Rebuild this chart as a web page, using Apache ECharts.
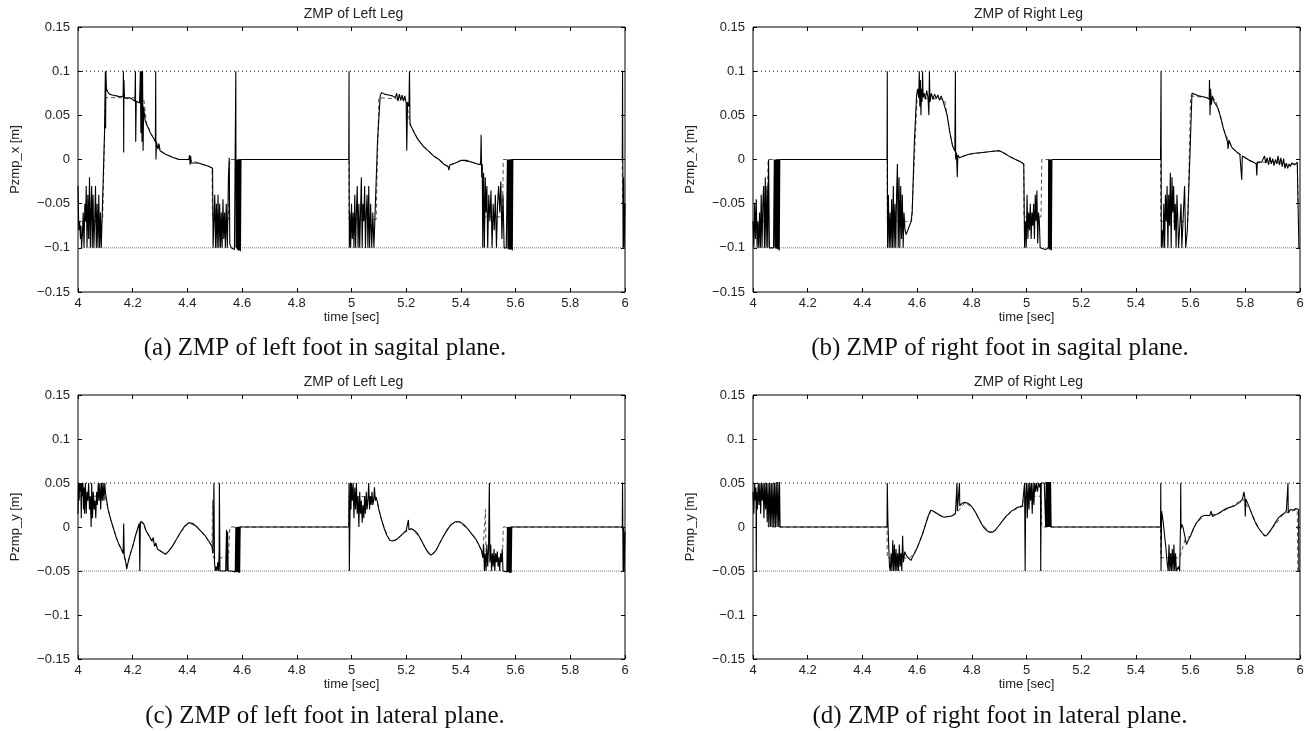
<!DOCTYPE html>
<html>
<head>
<meta charset="utf-8">
<title>ZMP of Left and Right Leg</title>
<script src="https://cdn.jsdelivr.net/npm/echarts@6/dist/echarts.min.js"></script>
<style>html,body{margin:0;background:#fff;}</style>
</head>
<body>
<div id="main" style="width:1316px;height:731px;"></div>
<script>
// time range and support-polygon limits
var timeRange = [4, 6];
var limitSagittal = [0.1, -0.1];
var limitLateral = [0.05, -0.05];

// (a) left leg, sagittal: measured [t, Pzmp_x]
var leftXMeas = [
  [4.000,-0.030],[4.003,-0.080],[4.006,-0.070],[4.009,-0.090],[4.011,-0.075],[4.013,-0.100],[4.016,-0.085],[4.019,-0.060],
  [4.022,-0.100],[4.025,-0.050],[4.028,-0.070],[4.030,-0.030],[4.033,-0.100],[4.036,-0.040],[4.039,-0.090],[4.042,-0.020],
  [4.045,-0.100],[4.048,-0.050],[4.050,-0.030],[4.052,-0.100],[4.055,-0.040],[4.058,-0.100],[4.061,-0.070],[4.064,-0.030],
  [4.067,-0.100],[4.070,-0.050],[4.073,-0.100],[4.076,-0.040],[4.079,-0.100],[4.082,-0.060],[4.085,-0.100],[4.092,-0.100],
  [4.097,0.030],[4.100,0.100],[4.101,0.035],[4.102,0.100],[4.104,0.080],[4.108,0.077],[4.115,0.074],[4.125,0.073],
  [4.140,0.072],[4.155,0.071],[4.165,0.072],[4.166,0.100],[4.167,0.008],[4.168,0.090],[4.170,0.070],[4.180,0.069],
  [4.190,0.070],[4.200,0.068],[4.208,0.066],[4.210,0.100],[4.211,0.020],[4.213,0.066],[4.220,0.065],[4.225,0.064],
  [4.228,0.100],[4.230,0.030],[4.232,0.100],[4.234,0.020],[4.236,0.100],[4.238,0.010],[4.240,0.060],[4.245,0.045],
  [4.250,0.040],[4.258,0.035],[4.265,0.030],[4.275,0.025],[4.283,0.020],[4.284,0.100],[4.285,0.000],[4.287,0.020],
  [4.292,0.012],[4.296,0.018],[4.300,0.010],[4.310,0.008],[4.320,0.006],[4.335,0.004],[4.350,0.002],[4.370,0.000],
  [4.390,0.000],[4.405,0.000],[4.408,0.005],[4.410,-0.006],[4.412,0.004],[4.414,-0.004],[4.420,-0.002],[4.440,-0.004],
  [4.460,-0.006],[4.480,-0.008],[4.492,-0.010],[4.494,-0.100],[4.498,-0.100],[4.500,-0.040],[4.503,-0.100],[4.506,-0.050],
  [4.509,-0.100],[4.512,-0.040],[4.515,-0.100],[4.518,-0.050],[4.521,-0.100],[4.524,-0.060],[4.527,-0.100],[4.530,-0.045],
  [4.533,-0.090],[4.536,-0.060],[4.539,-0.100],[4.542,-0.050],[4.546,-0.100],[4.550,-0.020],[4.553,0.002],[4.555,-0.095],
  [4.560,-0.100],[4.566,-0.100],[4.572,-0.102],[4.576,-0.100],[4.577,0.100],[4.578,-0.100],[4.580,0.000],[4.582,-0.102],
  [4.584,0.000],[4.586,-0.103],[4.588,0.000],[4.590,-0.103],[4.592,0.000],[4.594,-0.104],[4.596,0.000],[4.600,0.000],
  [4.990,0.000],[4.991,0.100],[4.992,-0.100],[4.994,-0.060],[4.997,-0.100],[5.000,-0.050],[5.003,-0.090],[5.006,-0.060],
  [5.009,-0.100],[5.012,-0.040],[5.015,-0.100],[5.018,-0.060],[5.021,-0.030],[5.024,-0.100],[5.027,-0.050],[5.030,-0.100],
  [5.033,-0.060],[5.036,-0.020],[5.039,-0.100],[5.042,-0.050],[5.045,-0.070],[5.048,-0.030],[5.051,-0.100],[5.054,-0.060],
  [5.057,-0.040],[5.060,-0.100],[5.063,-0.030],[5.066,-0.100],[5.070,-0.050],[5.074,-0.100],[5.078,-0.060],[5.082,-0.100],
  [5.086,-0.100],[5.095,0.020],[5.105,0.072],[5.110,0.076],[5.120,0.074],[5.135,0.073],[5.150,0.072],[5.160,0.070],
  [5.165,0.075],[5.170,0.066],[5.175,0.074],[5.180,0.067],[5.185,0.073],[5.190,0.066],[5.195,0.072],[5.200,0.064],
  [5.202,0.010],[5.205,0.065],[5.210,0.060],[5.212,0.100],[5.214,0.040],[5.220,0.038],[5.230,0.030],[5.240,0.024],
  [5.250,0.020],[5.265,0.014],[5.280,0.010],[5.300,0.004],[5.320,0.000],[5.340,-0.006],[5.353,-0.008],[5.356,-0.012],
  [5.360,-0.006],[5.380,-0.004],[5.400,-0.001],[5.420,-0.001],[5.440,-0.003],[5.460,-0.005],[5.472,-0.006],[5.474,0.028],
  [5.476,-0.020],[5.478,-0.005],[5.480,-0.100],[5.483,-0.015],[5.486,-0.100],[5.489,-0.020],[5.492,-0.060],[5.495,-0.030],
  [5.498,-0.100],[5.502,-0.040],[5.506,-0.070],[5.510,-0.035],[5.514,-0.100],[5.518,-0.050],[5.522,-0.080],[5.526,-0.040],
  [5.530,-0.100],[5.534,-0.050],[5.538,-0.030],[5.542,-0.060],[5.546,-0.025],[5.550,-0.090],[5.554,-0.040],[5.558,-0.100],
  [5.566,-0.100],[5.570,0.000],[5.572,-0.101],[5.574,0.000],[5.576,-0.102],[5.578,0.000],[5.580,-0.102],[5.582,0.000],
  [5.584,-0.102],[5.586,0.000],[5.588,-0.103],[5.590,0.000],[5.990,0.000],[5.991,0.100],[5.993,-0.100],[5.995,-0.020],
  [5.997,-0.100],[6.000,-0.050]
];
// (a) reference
var leftXRef = [
  [4.000,-0.070],[4.090,-0.070],[4.100,0.070],[4.240,0.070],[4.250,0.042],[4.265,0.030],[4.283,0.020],[4.300,0.010],
  [4.320,0.006],[4.350,0.002],[4.370,0.000],[4.405,0.000],[4.440,-0.004],[4.460,-0.006],[4.480,-0.008],[4.490,-0.010],
  [4.492,-0.068],[4.550,-0.068],[4.555,0.000],[4.990,0.000],[4.991,-0.068],[5.090,-0.068],[5.100,0.070],[5.200,0.068],
  [5.214,0.040],[5.230,0.030],[5.250,0.020],[5.280,0.010],[5.300,0.004],[5.320,0.000],[5.353,-0.008],[5.380,-0.004],
  [5.400,-0.001],[5.440,-0.003],[5.478,-0.006],[5.480,-0.065],[5.552,-0.065],[5.555,0.000],[5.990,0.000],[5.991,-0.050],
  [6.000,-0.050]
];

// (b) right leg, sagittal: measured
var rightXMeas = [
  [4.000,-0.070],[4.003,-0.100],[4.006,-0.050],[4.009,-0.090],[4.012,-0.045],[4.015,-0.100],[4.018,-0.070],[4.021,-0.100],
  [4.024,-0.060],[4.027,-0.100],[4.030,-0.040],[4.033,-0.100],[4.036,-0.050],[4.039,-0.030],[4.042,-0.100],[4.045,-0.020],
  [4.048,-0.100],[4.051,-0.030],[4.054,-0.100],[4.057,0.000],[4.060,-0.100],[4.065,-0.100],[4.075,-0.100],[4.078,0.000],
  [4.080,-0.100],[4.082,0.000],[4.084,-0.101],[4.086,0.000],[4.088,-0.101],[4.090,0.000],[4.092,-0.102],[4.094,0.000],
  [4.096,-0.103],[4.098,0.000],[4.100,0.000],[4.490,0.000],[4.491,0.100],[4.492,-0.100],[4.495,-0.040],[4.498,-0.100],
  [4.501,-0.060],[4.504,-0.100],[4.507,-0.045],[4.510,-0.100],[4.513,-0.030],[4.516,-0.100],[4.519,-0.050],[4.522,-0.100],
  [4.525,-0.040],[4.528,-0.005],[4.531,-0.100],[4.534,-0.020],[4.537,-0.100],[4.540,-0.030],[4.543,-0.090],[4.546,-0.040],
  [4.549,-0.100],[4.552,-0.060],[4.556,-0.080],[4.560,-0.085],[4.566,-0.080],[4.572,-0.075],[4.578,-0.070],[4.582,-0.060],
  [4.590,0.020],[4.598,0.072],[4.602,0.080],[4.606,0.070],[4.608,0.100],[4.610,0.060],[4.612,0.090],[4.614,0.050],
  [4.616,0.080],[4.618,0.065],[4.620,0.100],[4.622,0.070],[4.626,0.075],[4.630,0.068],[4.635,0.078],[4.640,0.070],
  [4.643,0.050],[4.645,0.100],[4.647,0.065],[4.652,0.075],[4.658,0.068],[4.664,0.074],[4.670,0.069],[4.676,0.073],
  [4.682,0.067],[4.688,0.072],[4.695,0.066],[4.700,0.066],[4.710,0.050],[4.720,0.030],[4.730,0.015],[4.738,0.010],
  [4.740,0.100],[4.741,0.000],[4.744,0.008],[4.747,-0.020],[4.749,0.005],[4.755,0.002],[4.770,0.004],[4.790,0.006],
  [4.810,0.007],[4.840,0.008],[4.870,0.009],[4.900,0.010],[4.920,0.007],[4.940,0.003],[4.960,0.000],[4.975,-0.002],
  [4.990,-0.005],[4.993,-0.100],[4.996,-0.070],[4.999,-0.100],[5.002,-0.040],[5.005,-0.090],[5.008,-0.060],[5.011,-0.080],
  [5.014,-0.050],[5.017,-0.090],[5.020,-0.060],[5.023,-0.075],[5.026,-0.050],[5.029,-0.090],[5.032,-0.040],[5.035,-0.070],
  [5.038,-0.035],[5.041,-0.095],[5.044,-0.060],[5.047,-0.070],[5.050,-0.100],[5.060,-0.101],[5.070,-0.102],[5.080,-0.100],
  [5.081,0.000],[5.083,-0.102],[5.085,0.000],[5.087,-0.102],[5.089,0.000],[5.091,-0.103],[5.093,0.000],[5.095,0.000],
  [5.490,0.000],[5.492,0.100],[5.493,-0.100],[5.496,-0.080],[5.499,-0.100],[5.502,-0.050],[5.505,-0.100],[5.508,-0.040],
  [5.511,-0.070],[5.514,-0.030],[5.517,-0.100],[5.520,-0.040],[5.523,-0.075],[5.526,-0.015],[5.529,-0.100],[5.532,-0.020],
  [5.535,-0.060],[5.538,-0.030],[5.541,-0.080],[5.544,-0.050],[5.547,-0.100],[5.550,-0.040],[5.553,-0.065],[5.556,-0.100],
  [5.562,-0.100],[5.565,-0.050],[5.568,-0.100],[5.575,-0.100],[5.578,-0.030],[5.582,-0.100],[5.588,-0.080],[5.597,0.000],
  [5.605,0.075],[5.615,0.074],[5.630,0.072],[5.645,0.071],[5.660,0.070],[5.668,0.068],[5.669,0.090],[5.671,0.050],
  [5.673,0.080],[5.676,0.062],[5.680,0.072],[5.685,0.066],[5.690,0.068],[5.700,0.058],[5.710,0.048],[5.720,0.035],
  [5.730,0.025],[5.735,0.020],[5.737,0.012],[5.740,0.022],[5.750,0.014],[5.760,0.011],[5.770,0.008],[5.780,0.006],
  [5.785,0.004],[5.787,-0.023],[5.789,0.004],[5.800,0.002],[5.810,0.000],[5.820,-0.002],[5.830,-0.003],[5.840,-0.005],
  [5.842,-0.018],[5.844,-0.003],[5.850,-0.002],[5.860,-0.003],[5.865,-0.001],[5.870,0.004],[5.875,-0.004],[5.880,0.002],
  [5.885,-0.006],[5.890,0.003],[5.895,-0.005],[5.900,0.001],[5.905,-0.007],[5.910,0.000],[5.915,-0.005],[5.920,0.004],
  [5.925,-0.006],[5.930,0.002],[5.935,-0.008],[5.940,0.001],[5.945,-0.010],[5.950,-0.004],[5.955,-0.010],[5.960,-0.005],
  [5.965,-0.008],[5.970,-0.004],[5.980,-0.006],[5.990,-0.003],[5.995,-0.003],[5.996,-0.100],[6.000,-0.100]
];
// (b) reference
var rightXRef = [
  [4.000,-0.070],[4.052,-0.070],[4.055,0.000],[4.490,0.000],[4.491,-0.070],[4.580,-0.070],[4.600,0.070],[4.700,0.068],
  [4.710,0.050],[4.720,0.030],[4.730,0.015],[4.740,0.008],[4.755,0.002],[4.790,0.006],[4.840,0.008],[4.900,0.010],
  [4.940,0.003],[4.960,0.000],[4.990,-0.005],[4.991,-0.065],[5.053,-0.065],[5.056,0.000],[5.490,0.000],[5.491,-0.070],
  [5.590,-0.070],[5.600,0.072],[5.660,0.070],[5.690,0.068],[5.700,0.058],[5.720,0.035],[5.740,0.020],[5.760,0.011],
  [5.780,0.006],[5.810,0.000],[5.840,-0.004],[5.900,-0.002],[5.950,-0.006],[5.990,-0.004],[5.993,-0.050],[6.000,-0.050]
];

// (c) left leg, lateral: measured [t, Pzmp_y]
var leftYMeas = [
  [4.000,0.015],[4.002,0.050],[4.004,0.030],[4.006,0.050],[4.008,0.040],[4.010,0.050],[4.012,0.010],[4.014,0.050],
  [4.016,0.035],[4.018,0.050],[4.020,0.020],[4.022,0.045],[4.024,0.015],[4.027,0.050],[4.030,0.015],[4.033,0.040],
  [4.036,0.030],[4.039,0.050],[4.042,0.020],[4.045,0.035],[4.048,0.000],[4.050,0.050],[4.053,0.010],[4.056,0.040],
  [4.059,0.020],[4.062,0.030],[4.065,0.010],[4.068,0.040],[4.071,0.025],[4.074,0.050],[4.077,0.030],[4.080,0.050],
  [4.083,0.020],[4.086,0.050],[4.089,0.030],[4.092,0.050],[4.095,0.030],[4.098,0.050],[4.100,0.040],[4.105,0.030],
  [4.110,0.020],[4.120,0.008],[4.130,-0.002],[4.140,-0.012],[4.150,-0.020],[4.160,-0.026],[4.165,-0.030],[4.167,0.004],
  [4.169,-0.032],[4.175,-0.040],[4.178,-0.048],[4.182,-0.042],[4.190,-0.032],[4.200,-0.022],[4.210,-0.010],[4.220,0.000],
  [4.224,0.004],[4.226,-0.050],[4.228,0.006],[4.232,0.008],[4.240,0.004],[4.250,-0.005],[4.260,-0.010],[4.270,-0.016],
  [4.275,-0.012],[4.280,-0.022],[4.285,-0.018],[4.290,-0.025],[4.300,-0.027],[4.310,-0.029],[4.320,-0.031],[4.330,-0.028],
  [4.345,-0.022],[4.360,-0.014],[4.375,-0.006],[4.390,0.001],[4.405,0.005],[4.420,0.004],[4.435,0.000],[4.450,-0.005],
  [4.465,-0.010],[4.480,-0.017],[4.490,-0.022],[4.493,-0.030],[4.495,0.000],[4.497,0.050],[4.499,-0.040],[4.502,-0.050],
  [4.505,-0.045],[4.508,-0.050],[4.511,-0.040],[4.514,-0.050],[4.516,-0.030],[4.517,0.050],[4.519,-0.050],[4.530,-0.050],
  [4.540,-0.050],[4.543,-0.003],[4.545,-0.050],[4.547,-0.005],[4.549,-0.050],[4.560,-0.050],[4.575,-0.051],[4.577,0.000],
  [4.579,-0.051],[4.581,0.000],[4.583,-0.051],[4.585,0.000],[4.587,-0.052],[4.589,0.000],[4.591,-0.052],[4.593,0.000],
  [4.600,0.000],[4.990,0.000],[4.991,0.050],[4.992,-0.050],[4.994,0.000],[4.996,0.050],[4.998,0.020],[5.000,0.050],
  [5.003,0.030],[5.006,0.050],[5.009,0.010],[5.012,0.045],[5.015,0.020],[5.018,0.050],[5.021,0.015],[5.024,0.035],
  [5.027,0.000],[5.030,0.040],[5.033,0.015],[5.036,0.030],[5.039,0.005],[5.042,0.025],[5.045,0.010],[5.048,0.035],
  [5.051,0.015],[5.054,0.040],[5.057,0.020],[5.060,0.030],[5.063,0.050],[5.066,0.020],[5.069,0.035],[5.072,0.025],
  [5.075,0.040],[5.078,0.025],[5.081,0.030],[5.084,0.045],[5.087,0.030],[5.090,0.034],[5.095,0.028],[5.100,0.020],
  [5.110,0.008],[5.120,-0.002],[5.130,-0.010],[5.140,-0.015],[5.150,-0.016],[5.160,-0.015],[5.170,-0.013],[5.180,-0.010],
  [5.190,-0.007],[5.200,-0.004],[5.205,-0.002],[5.208,0.008],[5.210,-0.003],[5.220,-0.002],[5.230,-0.004],[5.240,-0.007],
  [5.250,-0.012],[5.260,-0.018],[5.270,-0.024],[5.280,-0.029],[5.290,-0.032],[5.300,-0.030],[5.310,-0.026],[5.320,-0.020],
  [5.335,-0.011],[5.350,-0.003],[5.365,0.003],[5.380,0.006],[5.395,0.006],[5.410,0.003],[5.425,-0.002],[5.440,-0.008],
  [5.455,-0.014],[5.465,-0.020],[5.475,-0.026],[5.480,-0.035],[5.483,-0.020],[5.486,-0.050],[5.489,-0.030],[5.492,-0.050],
  [5.495,-0.020],[5.498,-0.045],[5.501,-0.025],[5.504,0.050],[5.506,-0.040],[5.509,-0.020],[5.512,-0.050],[5.515,-0.030],
  [5.518,-0.045],[5.521,-0.025],[5.524,-0.050],[5.527,-0.030],[5.530,-0.040],[5.533,-0.028],[5.536,-0.045],[5.539,-0.035],
  [5.542,-0.050],[5.545,-0.030],[5.548,-0.040],[5.551,-0.025],[5.554,-0.050],[5.560,-0.050],[5.568,-0.051],[5.570,0.000],
  [5.572,-0.051],[5.574,0.000],[5.576,-0.052],[5.578,0.000],[5.580,-0.052],[5.582,0.000],[5.584,-0.052],[5.586,0.000],
  [5.590,0.000],[5.990,0.000],[5.991,0.050],[5.993,-0.050],[5.995,0.000],[5.997,-0.050],[6.000,-0.005]
];
// (c) reference
var leftYRef = [
  [4.000,0.035],[4.100,0.035],[4.110,0.020],[4.120,0.008],[4.130,-0.002],[4.140,-0.012],[4.150,-0.020],[4.165,-0.030],
  [4.178,-0.044],[4.190,-0.032],[4.200,-0.022],[4.210,-0.010],[4.220,0.000],[4.232,0.007],[4.250,-0.005],[4.270,-0.016],
  [4.300,-0.027],[4.320,-0.031],[4.345,-0.022],[4.375,-0.006],[4.405,0.005],[4.435,0.000],[4.465,-0.010],[4.490,-0.022],
  [4.492,0.030],[4.495,-0.035],[4.550,-0.035],[4.555,0.000],[4.990,0.000],[4.991,0.035],[5.090,0.034],[5.100,0.020],
  [5.110,0.008],[5.120,-0.002],[5.140,-0.015],[5.160,-0.015],[5.190,-0.007],[5.220,-0.002],[5.250,-0.012],[5.270,-0.024],
  [5.290,-0.032],[5.310,-0.026],[5.335,-0.011],[5.365,0.003],[5.390,0.006],[5.425,-0.002],[5.455,-0.014],[5.480,-0.030],
  [5.490,0.020],[5.492,-0.035],[5.552,-0.035],[5.555,0.000],[5.990,0.000],[5.991,-0.003],[6.000,-0.003]
];

// (d) right leg, lateral: measured
var rightYMeas = [
  [4.000,0.040],[4.003,0.015],[4.006,0.050],[4.009,0.030],[4.011,0.045],[4.012,-0.050],[4.013,0.040],[4.016,0.020],
  [4.019,0.050],[4.022,0.025],[4.025,0.050],[4.028,0.015],[4.031,0.050],[4.034,0.030],[4.037,0.050],[4.040,0.010],
  [4.043,0.050],[4.046,0.020],[4.049,0.050],[4.052,0.005],[4.055,0.050],[4.058,0.000],[4.061,0.050],[4.064,0.000],
  [4.067,0.050],[4.070,0.000],[4.073,0.050],[4.076,0.000],[4.079,0.050],[4.082,0.000],[4.085,0.051],[4.088,0.000],
  [4.091,0.051],[4.094,0.000],[4.097,0.051],[4.099,0.000],[4.490,0.000],[4.491,0.050],[4.493,0.010],[4.496,-0.020],
  [4.499,-0.045],[4.502,-0.050],[4.505,-0.030],[4.508,-0.050],[4.511,-0.015],[4.514,-0.050],[4.517,-0.020],[4.520,-0.050],
  [4.523,-0.025],[4.526,-0.050],[4.529,-0.030],[4.532,-0.050],[4.535,-0.020],[4.538,-0.045],[4.541,-0.030],[4.544,-0.050],
  [4.547,-0.010],[4.550,-0.040],[4.555,-0.028],[4.560,-0.032],[4.570,-0.036],[4.578,-0.038],[4.583,-0.034],[4.590,-0.030],
  [4.600,-0.024],[4.610,-0.016],[4.620,-0.008],[4.630,0.002],[4.640,0.012],[4.650,0.019],[4.660,0.018],[4.670,0.016],
  [4.680,0.014],[4.690,0.012],[4.700,0.011],[4.710,0.012],[4.720,0.012],[4.730,0.013],[4.740,0.015],[4.745,0.016],
  [4.746,0.050],[4.747,0.018],[4.752,0.020],[4.755,0.050],[4.756,0.024],[4.765,0.027],[4.775,0.028],[4.785,0.027],
  [4.795,0.025],[4.805,0.021],[4.815,0.016],[4.825,0.010],[4.835,0.004],[4.845,-0.001],[4.855,-0.004],[4.865,-0.006],
  [4.875,-0.006],[4.885,-0.004],[4.895,0.000],[4.905,0.004],[4.915,0.008],[4.925,0.012],[4.935,0.015],[4.945,0.018],
  [4.955,0.020],[4.965,0.022],[4.975,0.023],[4.985,0.024],[4.990,0.025],[4.993,0.050],[4.995,-0.050],[4.997,0.030],
  [5.000,0.050],[5.003,0.010],[5.006,0.050],[5.009,0.020],[5.012,0.050],[5.015,0.030],[5.018,0.050],[5.021,0.015],
  [5.024,0.050],[5.027,0.025],[5.030,0.050],[5.033,0.040],[5.036,0.050],[5.040,0.040],[5.044,0.050],[5.048,0.045],
  [5.051,0.050],[5.052,-0.050],[5.054,0.050],[5.058,0.050],[5.065,0.050],[5.070,0.000],[5.072,0.051],[5.074,0.000],
  [5.076,0.051],[5.078,0.000],[5.080,0.051],[5.082,0.000],[5.084,0.051],[5.086,0.000],[5.088,0.051],[5.090,0.000],
  [5.490,0.000],[5.491,0.050],[5.492,-0.050],[5.494,0.018],[5.497,0.012],[5.500,0.005],[5.505,-0.010],[5.510,-0.025],
  [5.514,-0.040],[5.518,-0.050],[5.521,-0.020],[5.524,-0.050],[5.527,-0.030],[5.530,-0.050],[5.533,-0.025],[5.536,-0.050],
  [5.539,-0.020],[5.542,-0.050],[5.545,-0.030],[5.548,-0.050],[5.552,-0.050],[5.556,-0.045],[5.560,-0.050],[5.563,0.000],
  [5.564,0.050],[5.565,-0.002],[5.568,0.003],[5.572,0.000],[5.576,-0.006],[5.580,-0.012],[5.585,-0.020],[5.590,-0.016],
  [5.600,-0.010],[5.610,-0.002],[5.620,0.004],[5.630,0.008],[5.640,0.012],[5.650,0.013],[5.660,0.013],[5.670,0.013],
  [5.675,0.018],[5.680,0.012],[5.690,0.014],[5.700,0.015],[5.710,0.017],[5.720,0.019],[5.730,0.021],[5.740,0.022],
  [5.750,0.023],[5.760,0.024],[5.770,0.026],[5.780,0.028],[5.790,0.032],[5.795,0.040],[5.798,0.034],[5.800,0.012],
  [5.802,0.032],[5.810,0.026],[5.820,0.018],[5.830,0.010],[5.840,0.003],[5.850,-0.002],[5.860,-0.006],[5.870,-0.010],
  [5.880,-0.009],[5.890,-0.005],[5.900,0.000],[5.910,0.005],[5.920,0.010],[5.930,0.013],[5.940,0.015],[5.950,0.018],
  [5.955,0.020],[5.956,0.050],[5.957,0.016],[5.965,0.020],[5.975,0.019],[5.985,0.021],[5.992,0.020],[5.995,0.020],
  [5.996,-0.050],[6.000,-0.050]
];
// (d) reference
var rightYRef = [
  [4.000,0.035],[4.053,0.035],[4.056,0.000],[4.490,0.000],[4.491,-0.035],[4.550,-0.035],[4.570,-0.036],[4.590,-0.030],
  [4.610,-0.016],[4.630,0.002],[4.650,0.019],[4.680,0.014],[4.700,0.011],[4.730,0.013],[4.750,0.018],[4.775,0.028],
  [4.805,0.021],[4.835,0.004],[4.865,-0.006],[4.885,-0.004],[4.915,0.008],[4.945,0.018],[4.990,0.024],[4.992,0.035],
  [5.053,0.035],[5.056,0.000],[5.490,0.000],[5.491,-0.035],[5.560,-0.035],[5.580,-0.014],[5.600,-0.010],[5.620,0.004],
  [5.650,0.013],[5.700,0.015],[5.750,0.023],[5.790,0.032],[5.820,0.018],[5.850,-0.002],[5.875,-0.011],[5.900,-0.001],
  [5.940,0.015],[5.990,0.020],[5.992,-0.050],[6.000,-0.050]
];

var titles = ['ZMP of Left Leg', 'ZMP of Right Leg', 'ZMP of Left Leg', 'ZMP of Right Leg'];
var yNames = ['Pzmp_x [m]', 'Pzmp_x [m]', 'Pzmp_y [m]', 'Pzmp_y [m]'];
var captions = [
  '(a) ZMP of left foot in sagital plane.',
  '(b) ZMP of right foot in sagital plane.',
  '(c) ZMP of left foot in lateral plane.',
  '(d) ZMP of right foot in lateral plane.'
];
var measured = [leftXMeas, rightXMeas, leftYMeas, rightYMeas];
var reference = [leftXRef, rightXRef, leftYRef, rightYRef];
var limits = [limitSagittal, limitSagittal, limitLateral, limitLateral];

// layout of the four panels
var boxes = [
  {left: 78, top: 27, height: 265, capX: 325, capY: 348},
  {left: 753, top: 27, height: 265, capX: 1000, capY: 348},
  {left: 78, top: 395, height: 264, capX: 325, capY: 716},
  {left: 753, top: 395, height: 264, capX: 1000, capY: 716}
];
var plotW = 547;
var sans = '"Liberation Sans", Arial, sans-serif';

function yFmt(v) {
  var r = Math.round(v * 100) / 100;
  if (r === 0) return '0';
  return (r < 0 ? '\u2212' : '') + String(Math.abs(r));
}
function xFmt(v) { return String(Math.round(v * 10) / 10); }

var tick = {show: true, inside: true, length: 4, lineStyle: {color: '#000', width: 1}};
var noLine = {show: false, onZero: false};

var grid = [], xAxis = [], yAxis = [], series = [], graphic = [];

boxes.forEach(function (b, i) {
  grid.push({left: b.left, top: b.top, width: plotW, height: b.height,
    show: true, borderColor: '#000', borderWidth: 1, backgroundColor: 'transparent'});

  // bottom axis with labels, top axis only for mirrored ticks
  xAxis.push({type: 'value', gridIndex: i, min: timeRange[0], max: timeRange[1], interval: 0.2,
    position: 'bottom', axisLine: noLine, splitLine: {show: false}, axisTick: tick,
    axisLabel: {formatter: xFmt, color: '#222', fontSize: 13, fontFamily: sans, margin: 5},
    name: 'time [sec]', nameLocation: 'middle', nameGap: 18,
    nameTextStyle: {color: '#222', fontSize: 13, fontFamily: sans}});
  xAxis.push({type: 'value', gridIndex: i, min: timeRange[0], max: timeRange[1], interval: 0.2,
    position: 'top', axisLine: noLine, splitLine: {show: false}, axisTick: tick,
    axisLabel: {show: false}});

  yAxis.push({type: 'value', gridIndex: i, min: -0.15, max: 0.15, interval: 0.05,
    position: 'left', axisLine: noLine, splitLine: {show: false}, axisTick: tick,
    axisLabel: {formatter: yFmt, color: '#222', fontSize: 13, fontFamily: sans, margin: 8}});
  yAxis.push({type: 'value', gridIndex: i, min: -0.15, max: 0.15, interval: 0.05,
    position: 'right', axisLine: noLine, splitLine: {show: false}, axisTick: tick,
    axisLabel: {show: false}});

  var xi = i * 2, yi = i * 2;
  var lim = limits[i];
  series.push({type: 'line', xAxisIndex: xi, yAxisIndex: yi, showSymbol: false, silent: true,
    data: [[timeRange[0], lim[0]], [timeRange[1], lim[0]]],
    lineStyle: {color: '#000', width: 1, type: [1, 3]}, z: 1});
  series.push({type: 'line', xAxisIndex: xi, yAxisIndex: yi, showSymbol: false, silent: true,
    data: [[timeRange[0], lim[1]], [timeRange[1], lim[1]]],
    lineStyle: {color: '#777', width: 1, type: [1, 1]}, z: 1});
  series.push({type: 'line', xAxisIndex: xi, yAxisIndex: yi, showSymbol: false, silent: true,
    data: reference[i], lineStyle: {color: '#555', width: 1, type: [4, 3]}, z: 2});
  series.push({type: 'line', xAxisIndex: xi, yAxisIndex: yi, showSymbol: false, silent: true,
    data: measured[i], lineStyle: {color: '#000', width: 1.1}, z: 3});

  var cx = b.left + plotW / 2;
  graphic.push({type: 'text', x: cx + 2, y: b.top - 13,
    style: {text: titles[i], fill: '#222', font: '14px ' + sans, textAlign: 'center', textVerticalAlign: 'middle'}});
  graphic.push({type: 'text', x: b.left - 63, y: b.top + b.height / 2, rotation: Math.PI / 2,
    style: {text: yNames[i], fill: '#222', font: '13px ' + sans, textAlign: 'center', textVerticalAlign: 'middle'}});
  graphic.push({type: 'text', x: b.capX, y: b.capY,
    style: {text: captions[i], fill: '#111', font: '25px "Liberation Serif", serif', textAlign: 'center', textVerticalAlign: 'middle'}});
});

var chart = echarts.init(document.getElementById('main'));
chart.setOption({
  animation: false,
  backgroundColor: '#fff',
  grid: grid,
  xAxis: xAxis,
  yAxis: yAxis,
  series: series,
  graphic: graphic
});
</script>
</body>
</html>
